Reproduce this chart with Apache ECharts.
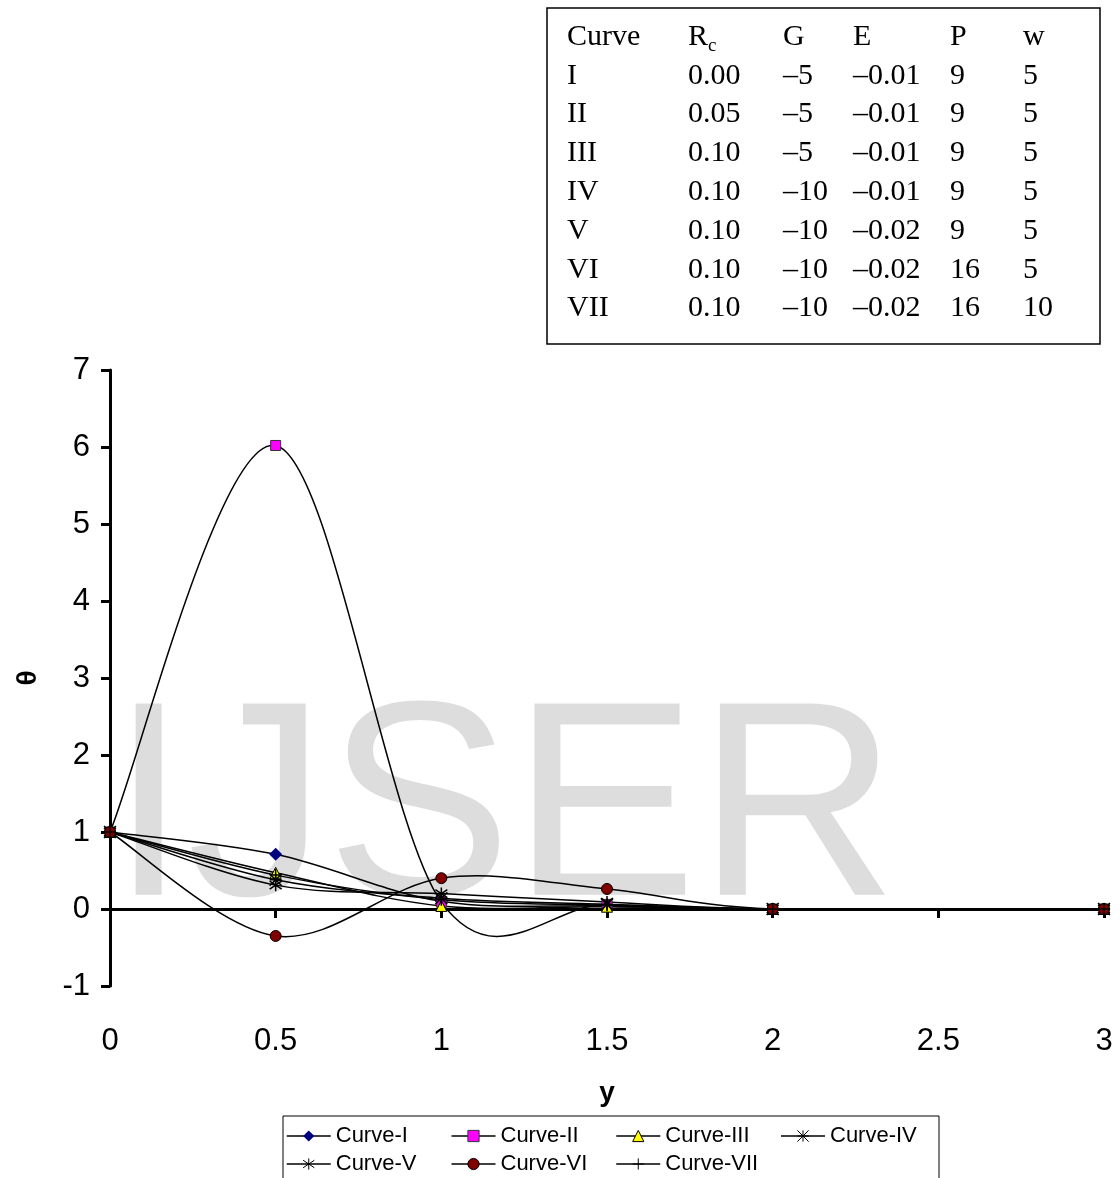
<!DOCTYPE html>
<html><head><meta charset="utf-8">
<script src="https://cdn.jsdelivr.net/npm/echarts@6/dist/echarts.min.js"></script>
<style>html,body{margin:0;padding:0;background:#fff}#c{width:1120px;height:1178px}</style>
</head><body><div id="c"></div>
<script>
// ---- data ----
const yPositions = [0, 0.5, 1, 1.5, 2, 3];
const curveNames = ['Curve-I', 'Curve-II', 'Curve-III', 'Curve-IV', 'Curve-V', 'Curve-VI', 'Curve-VII'];
const curveI   = [1, 0.71, 0.10, 0.04, 0, 0];
const curveII  = [1, 6.02, 0.09, 0.06, 0, 0];
const curveIII = [1, 0.47, 0.04, 0.03, 0, 0];
const curveIV  = [1, 0.38, 0.14, 0.06, 0, 0];
const curveV   = [1, 0.31, 0.20, 0.09, 0, 0];
const curveVI  = [1, -0.35, 0.40, 0.26, 0, 0];
const curveVII = [1, 0.44, 0.12, 0.05, 0, 0];
const xAxisMin = 0, xAxisMax = 3, xAxisStep = 0.5;
const yAxisMin = -1, yAxisMax = 7, yAxisStep = 1;
const tableHeader = ['Curve', 'R', 'G', 'E', 'P', 'w'];
const tableHeaderSub = 'c';
const tableRows = [
  ['I',   '0.00', '\u20135',  '\u20130.01', '9',  '5'],
  ['II',  '0.05', '\u20135',  '\u20130.01', '9',  '5'],
  ['III', '0.10', '\u20135',  '\u20130.01', '9',  '5'],
  ['IV',  '0.10', '\u201310', '\u20130.01', '9',  '5'],
  ['V',   '0.10', '\u201310', '\u20130.02', '9',  '5'],
  ['VI',  '0.10', '\u201310', '\u20130.02', '16', '5'],
  ['VII', '0.10', '\u201310', '\u20130.02', '16', '10']
];
const watermarkText = 'IJSER';

// ---- styling ----
const SANS = '"Liberation Sans", Arial, Helvetica, sans-serif';
const SERIF = '"Liberation Serif", "Times New Roman", serif';
const curveValues = [curveI, curveII, curveIII, curveIV, curveV, curveVI, curveVII];
const markerStyles = [
  {symbol: 'diamond', symbolSize: 13, itemStyle: {color: '#000080', borderWidth: 0}},
  {symbol: 'rect', symbolSize: 10, itemStyle: {color: '#FF00FF', borderColor: '#333', borderWidth: 1}},
  {symbol: 'triangle', symbolSize: 11, itemStyle: {color: '#FFFF00', borderColor: '#000', borderWidth: 1}},
  {symbol: 'path://M6 0L6 12M0 0L12 12M12 0L0 12M0 6L12 6', symbolSize: 12, itemStyle: {color: '#000', borderColor: '#000', borderWidth: 1.5}},
  {symbol: 'path://M6 0L6 12M0 2L12 10M12 2L0 10', symbolSize: 12, itemStyle: {color: '#000', borderColor: '#000', borderWidth: 1.5}},
  {symbol: 'circle', symbolSize: 11, itemStyle: {color: '#800000', borderColor: '#000', borderWidth: 1}},
  {symbol: 'path://M6 0L6 12M0 6L12 6', symbolSize: 12, itemStyle: {color: '#000', borderColor: '#000', borderWidth: 1.5}}
];

// smooth curve through the data points (Bezier segments, control points from neighbouring data points)
function curveRenderer(params, api) {
  const i = params.dataIndexInside, n = params.dataInsideLength;
  if (i >= n - 1) return null;
  const pt = k => { k = Math.max(0, Math.min(n - 1, k)); return api.coord([api.value(0, k), api.value(1, k)]); };
  const p0 = pt(i - 1), p1 = pt(i), p2 = pt(i + 1), p3 = pt(i + 2);
  const t = 1 / 6;
  return {
    type: 'bezierCurve', silent: true,
    shape: {
      x1: p1[0], y1: p1[1], x2: p2[0], y2: p2[1],
      cpx1: p1[0] + (p2[0] - p0[0]) * t, cpy1: p1[1] + (p2[1] - p0[1]) * t,
      cpx2: p2[0] - (p3[0] - p1[0]) * t, cpy2: p2[1] - (p3[1] - p1[1]) * t
    },
    style: {stroke: '#000', lineWidth: 1.5, fill: null}
  };
}

const series = [];
curveNames.forEach((name, s) => {
  const pairs = yPositions.map((x, i) => [x, curveValues[s][i]]);
  series.push(Object.assign({
    name: name, type: 'line', data: pairs, showSymbol: true, z: 5,
    lineStyle: {opacity: 0, width: 1.5, color: '#000'},
    emphasis: {disabled: true}, animation: false
  }, markerStyles[s]));
});
curveNames.forEach((name, s) => {
  const pairs = yPositions.map((x, i) => [x, curveValues[s][i]]);
  series.push({
    name: name, type: 'custom', data: pairs, encode: {x: 0, y: 1}, z: 3,
    renderItem: curveRenderer, silent: true, animation: false
  });
});

// table graphic
const colX = [567, 688, 783, 853, 950, 1023];
const rowY0 = 37, rowStep = 38.8;
const graphics = [
  {type: 'text', z: 0, silent: true, style: {text: watermarkText, x: 110, y: 818, fontSize: 278, fontFamily: SANS, fill: '#dddddd', align: 'left', verticalAlign: 'middle'}},
  {type: 'rect', silent: true, shape: {x: 547, y: 8, width: 553, height: 336}, style: {fill: '#fff', stroke: '#000', lineWidth: 1.5}}
];
tableHeader.forEach((h, c) => {
  graphics.push({type: 'text', silent: true, style: {text: h, x: colX[c], y: rowY0, fontSize: 30, fontFamily: SERIF, fill: '#000', align: 'left', verticalAlign: 'middle'}});
});
graphics.push({type: 'text', silent: true, style: {text: tableHeaderSub, x: colX[1] + 20, y: rowY0 + 9, fontSize: 19, fontFamily: SERIF, fill: '#000', align: 'left', verticalAlign: 'middle'}});
tableRows.forEach((row, r) => {
  row.forEach((cell, c) => {
    graphics.push({type: 'text', silent: true, style: {text: cell, x: colX[c], y: rowY0 + rowStep * (r + 1), fontSize: 30, fontFamily: SERIF, fill: '#000', align: 'left', verticalAlign: 'middle'}});
  });
});

const chart = echarts.init(document.getElementById('c'), null, {renderer: 'canvas'});
chart.setOption({
  animation: false,
  backgroundColor: '#fff',
  grid: {left: 110, right: 16, top: 370, bottom: 192, containLabel: false, outerBoundsMode: 'none'},
  xAxis: [
    {type: 'value', min: xAxisMin, max: xAxisMax, interval: xAxisStep, position: 'bottom',
     axisLine: {show: false, onZero: false}, axisTick: {show: false}, splitLine: {show: false},
     axisLabel: {fontSize: 31, color: '#000', margin: 40, fontFamily: SANS},
     name: 'y', nameLocation: 'middle', nameGap: 93,
     nameTextStyle: {fontSize: 28, fontWeight: 'bold', color: '#000', fontFamily: SANS}},
    {type: 'value', min: xAxisMin, max: xAxisMax, interval: xAxisStep, position: 'bottom',
     axisLine: {show: true, onZero: true, lineStyle: {color: '#000', width: 3}},
     axisTick: {show: true, length: 9, lineStyle: {color: '#000', width: 3}},
     axisLabel: {show: false}, splitLine: {show: false}}
  ],
  yAxis: {type: 'value', min: yAxisMin, max: yAxisMax, interval: yAxisStep,
    axisLine: {show: true, onZero: false, lineStyle: {color: '#000', width: 3}},
    axisTick: {show: true, length: 9, lineStyle: {color: '#000', width: 3}},
    axisLabel: {fontSize: 31, color: '#000', margin: 20, fontFamily: SANS},
    splitLine: {show: false},
    name: '\u03B8', nameLocation: 'middle', nameRotate: 90, nameGap: 68,
    nameTextStyle: {fontSize: 28, fontWeight: 'bold', color: '#000', fontFamily: SANS}},
  legend: {
    data: curveNames, left: 283, top: 1116, width: 660, orient: 'horizontal',
    itemWidth: 44, itemHeight: 14, itemGap: 6,
    padding: [9, 0, 10, 3], borderColor: '#000', borderWidth: 1, backgroundColor: '#fff',
    textStyle: {fontFamily: SANS, fontSize: 22, color: '#000', width: 109, lineHeight: 15},
    lineStyle: {color: '#000', width: 1.5, opacity: 1},
    itemStyle: {borderWidth: 1},
    selectedMode: false
  },
  graphic: graphics,
  series: series
});
</script>
</body></html>
